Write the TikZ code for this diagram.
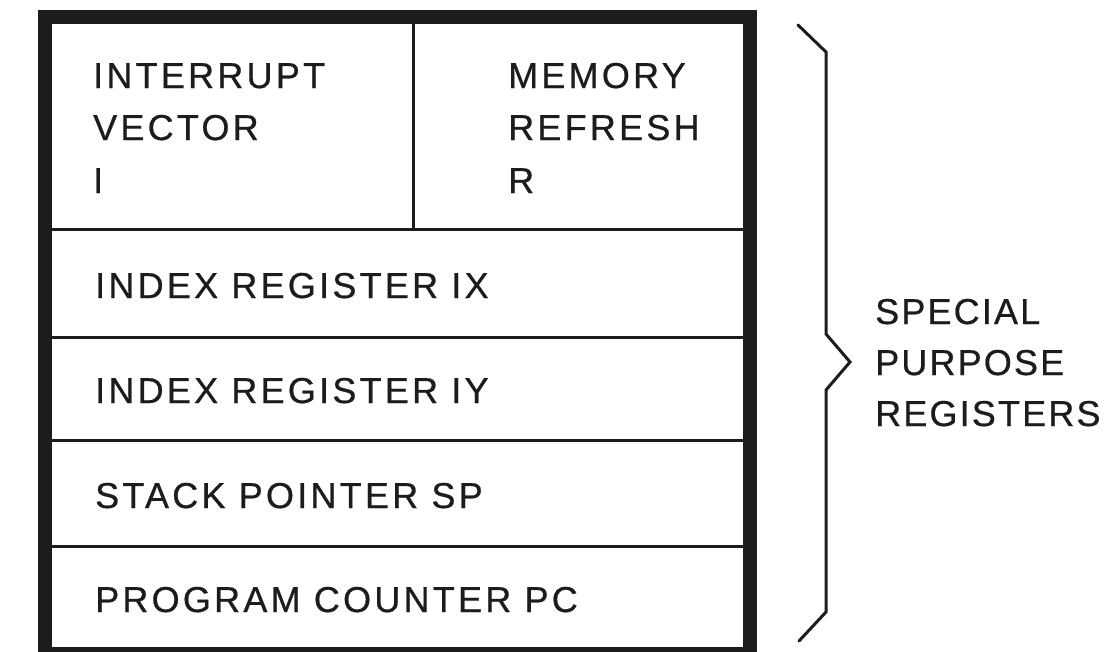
\documentclass[tikz,border=0pt]{standalone}
\usepackage{fontspec}
\setmainfont{Liberation Sans}[LetterSpace=9, FakeBold=0.6]
\newfontfamily\grpfont{Liberation Sans}[LetterSpace=6, FakeBold=0.6]
\definecolor{ink}{HTML}{1C1C1C}
\begin{document}
\begin{tikzpicture}[x=1pt,y=-1pt,
  frame/.style={line width=14pt, draw=ink},
  divider/.style={line width=3pt, draw=ink},
  lbl/.style={anchor=base west, inner sep=0pt, text=ink, font=\fontsize{36}{52}\selectfont},
  grplbl/.style={lbl, font=\grpfont\fontsize{36}{52}\selectfont},
  bracket/.style={line width=3pt, draw=ink, line join=miter, line cap=round}]
\useasboundingbox (0,0) rectangle (1116,651);
\clip (0,0) rectangle (1116,651);
\fill[white] (0,0) rectangle (1116,651);

% register file frame
\draw[frame] (44.5,17) rectangle (750,654);
% row dividers
\draw[divider] (52,229) -- (743,229);
\draw[divider] (52,337) -- (743,337);
\draw[divider] (52,440) -- (743,440);
\draw[divider] (52,546) -- (743,546);
% split of the top row
\draw[divider] (413,24) -- (413,229);

% register names
\node[lbl] (iv1) at (93,88)  {INTERRUPT};
\node[lbl] (iv2) at (93,140) {VECTOR};
\node[lbl] (iv3) at (93,193) {I};
\node[lbl] (mr1) at (508,88)  {MEMORY};
\node[lbl] (mr2) at (508,140) {REFRESH};
\node[lbl] (mr3) at (508,193) {R};
\node[lbl] (ix) at (95,298) {INDEX REGISTER IX};
\node[lbl] (iy) at (95,403) {INDEX REGISTER IY};
\node[lbl] (sp) at (95,508) {STACK POINTER SP};
\node[lbl] (pc) at (95,612) {PROGRAM COUNTER PC};

% brace grouping the registers
\coordinate (bt) at (798,25);
\coordinate (bt2) at (826,52);
\coordinate (bm1) at (826,334);
\coordinate (bm) at (850,362);
\coordinate (bm2) at (826,390);
\coordinate (bb2) at (826,612);
\coordinate (bb) at (799,641);
\draw[bracket] (bt) -- (bt2) -- (bm1) -- (bm) -- (bm2) -- (bb2) -- (bb);

% group label
\node[grplbl] (g1) at (875,324) {SPECIAL};
\node[grplbl] (g2) at (875,375) {PURPOSE};
\node[grplbl] (g3) at (875,426) {REGISTERS};
\end{tikzpicture}
\end{document}
